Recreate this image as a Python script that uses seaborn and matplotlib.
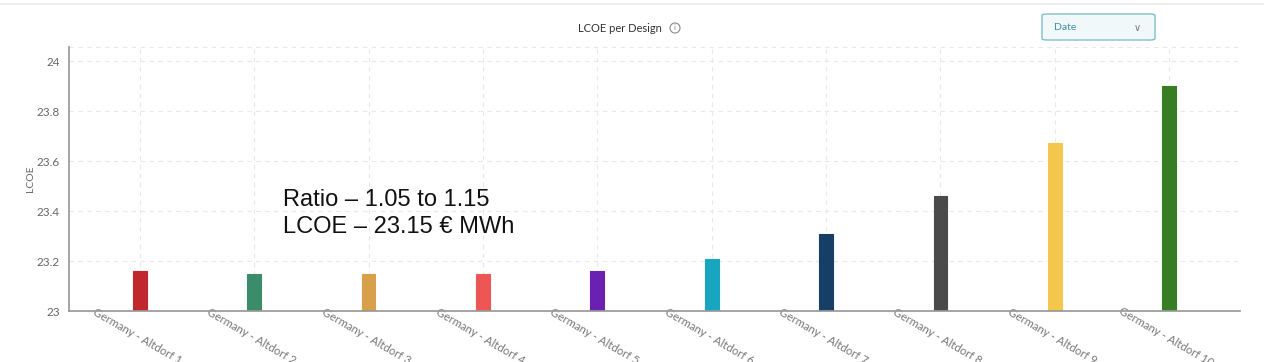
import matplotlib.pyplot as plt
import seaborn as sns
from matplotlib.patches import Ellipse, FancyBboxPatch

sns.set_theme(style="white")
plt.rcParams["font.family"] = ["Lato", "DejaVu Sans"]

# values
designs = [f"Germany - Altdorf {i}" for i in range(1, 11)]
lcoe = [23.16, 23.15, 23.15, 23.15, 23.16, 23.21, 23.31, 23.46, 23.67, 23.90]
colors = ["#C0282D", "#3C8C6C", "#D9A04C", "#EE5555", "#6A20B0",
          "#17A5BF", "#173F66", "#4A4A4A", "#F4C64E", "#367D23"]
yticks = [23, 23.2, 23.4, 23.6, 23.8, 24]
note_lines = ["Ratio \u2013 1.05 to 1.15", "LCOE \u2013 23.15 \u20ac MWh"]

fig = plt.figure(figsize=(12.64, 3.62), dpi=100)
ax = fig.add_axes([69 / 1264, 1 - 311 / 362, 1171 / 1264, 264 / 362])

sns.barplot(x=designs, y=lcoe, hue=designs, palette=colors, width=0.12,
            legend=False, ax=ax, saturation=1)
for bar, c in zip(ax.patches, colors):
    bar.set_edgecolor(c)
    bar.set_linewidth(0.8)

ax.set_ylim(23, 24.056)
ax.set_xlim(-0.62, 9.62)
ax.set_yticks(yticks)
ax.set_yticklabels(["23", "23.2", "23.4", "23.6", "23.8", "24"])
ax.tick_params(axis="both", colors="#666666", labelsize=8.5, length=3,
               width=0.8, direction="out")
ax.tick_params(axis="x", labelcolor="#777777", labelsize=8.2, pad=12)
plt.setp(ax.get_xticklabels(), rotation=-30, ha="center", va="top",
         rotation_mode="anchor")
ax.set_xlabel("")
ax.set_ylabel("LCOE", color="#666666", fontsize=7.5)
ax.yaxis.set_label_coords(-0.029, 0.5)

ax.grid(True, color="#E8E8E8", linestyle=(0, (4, 4)), linewidth=0.8)
ax.set_axisbelow(True)
for s in ["top", "right"]:
    ax.spines[s].set_visible(False)
ax.spines["left"].set_color("#999999")
ax.spines["bottom"].set_color("#999999")
ax.axhline(24.056, color="#E8E8E8", linestyle=(0, (4, 4)), linewidth=0.8, clip_on=False)

# annotation text
ax.text(0.183, 0.369, note_lines[0] + "\n" + note_lines[1], transform=ax.transAxes,
        fontsize=17, color="#111111", family=["Liberation Sans", "DejaVu Sans"],
        linespacing=1.3, va="center", ha="left")

# header elements
fig.add_artist(plt.Line2D([0, 1], [1 - 4 / 362] * 2, color="#EEEEEE", lw=1.5))
fig.text(662 / 1264, 1 - 28 / 362, "LCOE per Design", fontsize=8,
         color="#333333", ha="right", va="center")
fig.add_artist(Ellipse((675 / 1264, 1 - 28 / 362), 10 / 1264, 10 / 362,
                       transform=fig.transFigure, facecolor="none",
                       edgecolor="#888888", linewidth=0.8))
fig.text(675 / 1264, 1 - 28 / 362, "i", fontsize=5.5, color="#888888",
         ha="center", va="center")
box = FancyBboxPatch((1042 / 1264, 1 - 40 / 362), 113 / 1264, 26 / 362,
                     boxstyle="round,pad=0,rounding_size=0.004",
                     transform=fig.transFigure, facecolor="#F1F8FA",
                     edgecolor="#7FBFCC", linewidth=1)
fig.add_artist(box)
fig.text(1054 / 1264, 1 - 28 / 362, "Date", fontsize=7.5, color="#3D8FA3",
         va="center")
fig.text(1137 / 1264, 1 - 28 / 362, "\u2228", fontsize=7, color="#777777",
         va="center", ha="center", family=["DejaVu Sans"])

fig.savefig("out.png", dpi=100)
